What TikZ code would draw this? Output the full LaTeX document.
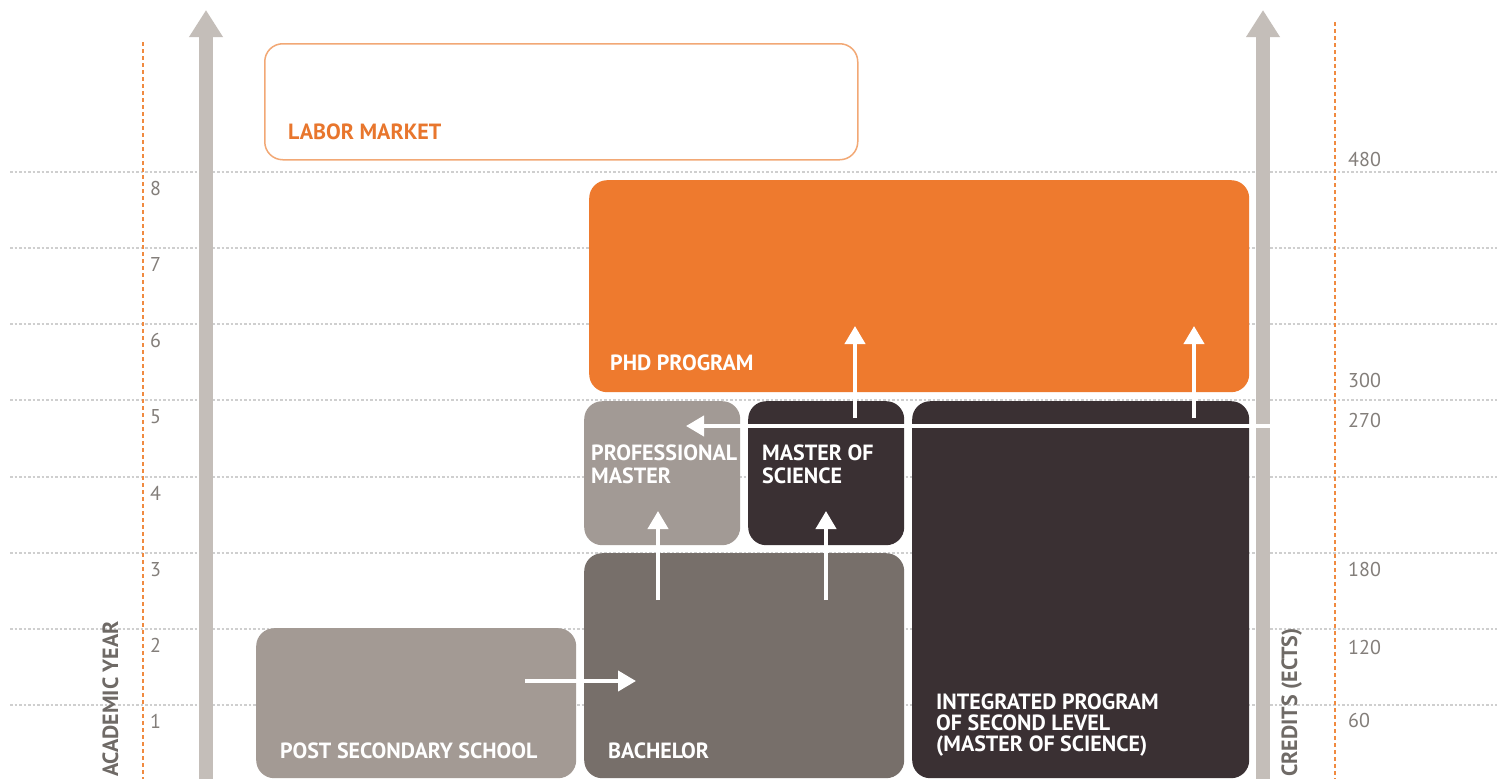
\documentclass[tikz,border=0pt]{standalone}
\usepackage{fontspec}
\setmainfont{PT Sans}
\usetikzlibrary{arrows.meta}
\definecolor{phdorange}{HTML}{EE7A2E}
\definecolor{lmborder}{HTML}{F2A875}
\definecolor{lmtext}{HTML}{E8762D}
\definecolor{profgray}{HTML}{A29A95}
\definecolor{darkbox}{HTML}{3A3033}
\definecolor{bachgray}{HTML}{776F6A}
\definecolor{postgray}{HTML}{A39A94}
\definecolor{axisgray}{HTML}{C4BEB9}
\definecolor{gridgray}{HTML}{CFCFCF}
\definecolor{dashorange}{HTML}{F08A40}
\definecolor{numgray}{HTML}{837E7A}
\definecolor{labgray}{HTML}{6F6A66}
\begin{document}
\begin{tikzpicture}[x=1pt,y=-1pt,
  box/.style={rectangle,rounded corners=18pt,inner sep=0pt,anchor=north west},
  boxtext/.style={anchor=base west,inner sep=0pt,text=white,font=\bfseries\fontsize{22}{24}\selectfont},
  num/.style={anchor=base west,inner sep=0pt,text=numgray,font=\fontsize{20}{22}\selectfont},
  axislabel/.style={anchor=base west,inner sep=0pt,rotate=90,text=labgray,font=\bfseries\fontsize{22}{24}\selectfont},
  gridline/.style={draw=gridgray,line width=1.2pt,dash pattern=on 2.5pt off 2pt},
  odash/.style={draw=dashorange,line width=1.5pt,dash pattern=on 4pt off 3pt},
  grayarrow/.style={draw=axisgray,line width=14pt,-{Triangle[width=32pt,length=27pt]}},
  warrow/.style={draw=white,line width=4pt,-{Triangle[width=20pt,length=18pt]}}
]
\useasboundingbox (0,0) rectangle (1497,779);
\fill[white] (0,0) rectangle (1497,779);

% grid lines
\foreach \yy in {172,248,324,400,477,553,629,705}
  \draw[gridline] (10,\yy) -- (1497,\yy);

% orange dashed axes
\coordinate (ldtop) at (143,42);
\coordinate (ldbot) at (143,779);
\coordinate (rdtop) at (1335,22);
\coordinate (rdbot) at (1335,779);
\draw[odash] (ldtop) -- (ldbot);
\draw[odash] (rdtop) -- (rdbot);

% gray arrows
\coordinate (lgbot) at (206,779);
\coordinate (lgtop) at (206,10);
\coordinate (rgbot) at (1263,779);
\coordinate (rgtop) at (1263,10);
\draw[grayarrow] (lgbot) -- (lgtop);
\draw[grayarrow] (rgbot) -- (rgtop);

% year numbers
\node[num] (y8) at (150,195) {8};
\node[num] (y7) at (150,271) {7};
\node[num] (y6) at (150,347) {6};
\node[num] (y5) at (150,423) {5};
\node[num] (y4) at (150,500) {4};
\node[num] (y3) at (150,576) {3};
\node[num] (y2) at (150,652) {2};
\node[num] (y1) at (150,728) {1};

% credit numbers
\node[num] (c480) at (1348,166) {480};
\node[num] (c300) at (1348,387) {300};
\node[num] (c270) at (1348,427) {270};
\node[num] (c180) at (1348,576) {180};
\node[num] (c120) at (1348,654) {120};
\node[num] (c60) at (1348,727) {60};

% axis labels
\node[axislabel] (aylabel) at (118,777) {ACADEMIC YEAR};
\node[axislabel] (crlabel) at (1297,777) {CREDITS (ECTS)};

% boxes
\node[box,draw=lmborder,line width=1.5pt,fill=white,minimum width=593pt,minimum height=116pt] (labor) at (264,43) {};
\node[box,fill=phdorange,minimum width=660pt,minimum height=212pt] (phd) at (589,180) {};
\node[box,fill=profgray,minimum width=156pt,minimum height=144pt] (prof) at (584,401) {};
\node[box,fill=darkbox,minimum width=156pt,minimum height=144pt] (msc) at (748,401) {};
\node[box,fill=darkbox,minimum width=337pt,minimum height=377pt] (integ) at (912,401) {};
\node[box,fill=bachgray,minimum width=320pt,minimum height=225pt] (bach) at (584,553) {};
\node[box,fill=postgray,minimum width=320pt,minimum height=150pt] (post) at (256,628) {};

% box texts
\node[boxtext,text=lmtext] (tlabor) at (288,139) {LABOR MARKET};
\node[boxtext] (tphd) at (610,370) {PHD PROGRAM};
\node[boxtext] (tprof1) at (591,460) {PROFESSIONAL};
\node[boxtext] (tprof2) at (591,483) {MASTER};
\node[boxtext] (tmsc1) at (762,460) {MASTER OF};
\node[boxtext] (tmsc2) at (762,483) {SCIENCE};
\node[boxtext] (tint1) at (936,709) {INTEGRATED PROGRAM};
\node[boxtext] (tint2) at (936,730) {OF SECOND LEVEL};
\node[boxtext] (tint3) at (936,751) {(MASTER OF SCIENCE)};
\node[boxtext] (tbach) at (608,758) {BACHELOR};
\node[boxtext] (tpost) at (280,758) {POST SECONDARY SCHOOL};

% white arrows
\coordinate (p2bs) at (525,681);
\coordinate (p2be) at (636,681);
\coordinate (b2ps) at (658,600);
\coordinate (b2pe) at (658,511);
\coordinate (b2ms) at (826,600);
\coordinate (b2me) at (826,511);
\coordinate (m2ps) at (855,418);
\coordinate (m2pe) at (855,326);
\coordinate (i2ps) at (1194,418);
\coordinate (i2pe) at (1194,326);
\coordinate (lms) at (1272,426);
\coordinate (lme) at (686,426);
\draw[warrow] (p2bs) -- (p2be);
\draw[warrow] (b2ps) -- (b2pe);
\draw[warrow] (b2ms) -- (b2me);
\draw[warrow] (m2ps) -- (m2pe);
\draw[warrow] (i2ps) -- (i2pe);
\draw[warrow] (lms) -- (lme);
\end{tikzpicture}
\end{document}
